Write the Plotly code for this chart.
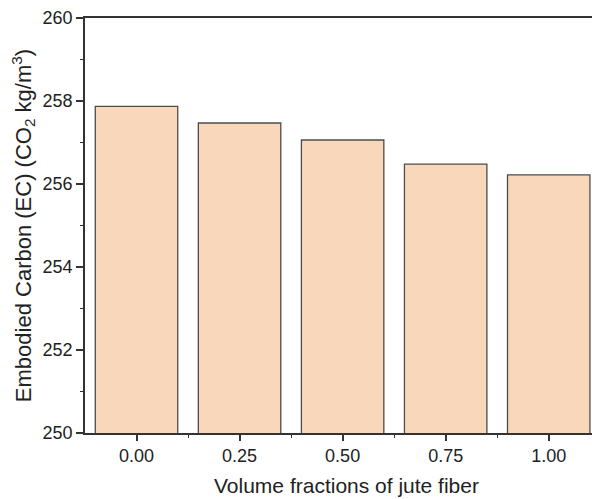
import plotly.graph_objects as go

categories = ["0.00", "0.25", "0.50", "0.75", "1.00"]
ec_values = [257.87, 257.47, 257.06, 256.48, 256.22]
y_ticks = [250, 252, 254, 256, 258, 260]

fig = go.Figure()
fig.add_trace(go.Bar(
    x=list(range(len(categories))),
    y=ec_values,
    base=0,
    width=0.8,
    marker=dict(color="#F9D7BA", line=dict(color="#4d4d4d", width=1.3)),
))

fig.update_layout(
    width=592, height=499,
    margin=dict(l=85, r=0, t=18, b=66),
    paper_bgcolor="white", plot_bgcolor="white",
    showlegend=False,
    font=dict(family="Liberation Sans, Arial", color="#222"),
    xaxis=dict(
        range=[-0.5, 4.42],
        tickvals=list(range(len(categories))),
        ticktext=categories,
        ticks="outside", ticklen=6, tickwidth=1.5, tickcolor="#333",
        minor=dict(tickvals=[0.5, 1.5, 2.5, 3.5], ticks="outside", ticklen=3, tickwidth=1.2, tickcolor="#333"),
        showline=True, linecolor="#333", linewidth=1.6, mirror=True,
        showgrid=False, zeroline=False,
        tickfont=dict(size=18),
    ),
    yaxis=dict(
        range=[250, 260],
        tickvals=y_ticks,
        ticks="outside", ticklen=7, tickwidth=1.5, tickcolor="#333",
        minor=dict(tickvals=[251, 253, 255, 257, 259], ticks="outside", ticklen=3, tickwidth=1.2, tickcolor="#333"),
        showline=True, linecolor="#333", linewidth=1.6,
        showgrid=False, zeroline=False,
        tickfont=dict(size=18),
        title=dict(text="Embodied Carbon (EC) (CO<sub>2</sub> kg/m<sup>3</sup>)", font=dict(size=22), standoff=5),
    ),
    annotations=[dict(
        text="Volume fractions of jute fiber",
        xref="paper", yref="paper", x=0.515, y=0,
        xanchor="center", yanchor="middle", yshift=-52,
        showarrow=False, font=dict(size=21, color="#222"),
    )],
)

fig.write_html("out.html")
